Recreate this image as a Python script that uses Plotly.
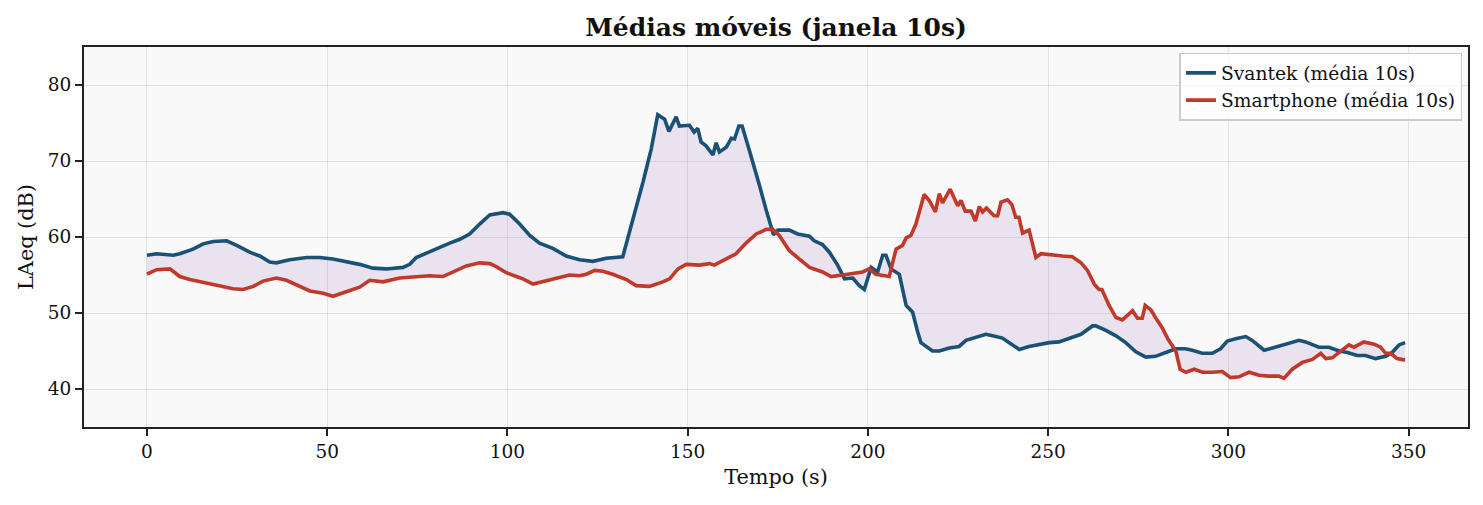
import plotly.graph_objects as go

# Svantek (média 10s)
sv_t = [0, 2.7, 7.3, 9.1, 12.8, 15.6, 18.4, 22.1, 24.9, 28.5, 31.3, 34.1, 35.9, 39.6, 44.3, 47.9,
        51.6, 55.3, 59.0, 62.7, 66.4, 71.0, 72.9, 74.7, 78.4, 81.2, 84.0, 86.8, 89.5, 92.3, 95.1,
        98.8, 100.6, 103.4, 106.2, 108.9, 112.6, 116.3, 120.0, 123.7, 127.4, 132.0, 133.4, 135.3,
        137.6, 139.9, 141.7, 143.6, 144.8, 146.8, 147.7, 150.5, 151.8, 152.8, 153.7, 155.1, 157.0,
        157.9, 158.8, 160.7, 162.1, 163.0, 164.2, 165.1, 167.1, 168.5, 169.9, 171.8, 173.8, 175.0,
        178.2, 180.5, 183.8, 185.1, 187.4, 189.3, 191.6, 193.5, 195.8, 197.6, 199.0, 200.9, 202.7,
        204.1, 205.0, 206.4, 208.7, 210.6, 212.4, 213.8, 214.7, 217.9, 219.8, 222.6, 225.3, 227.2,
        230.0, 232.7, 234.6, 237.3, 239.2, 242.0, 244.7, 247.5, 250.3, 253.0, 255.8, 259.1, 262.3,
        263.2, 266.0, 268.8, 271.5, 274.3, 277.1, 279.8, 282.6, 285.4, 288.0, 290.0, 292.7, 295.5,
        297.8, 299.7, 302.0, 304.8, 306.6, 308.5, 309.9, 312.2, 314.9, 316.8, 319.6, 321.4, 323.3,
        325.1, 327.9, 330.7, 333.0, 335.7, 338.0, 340.8, 343.6, 345.4, 347.3, 349.0]
sv_v = [57.6, 57.8, 57.6, 57.8, 58.4, 59.1, 59.4, 59.5, 58.9, 58.0, 57.5, 56.7, 56.6, 57.0, 57.3, 57.3,
        57.1, 56.8, 56.4, 55.9, 55.8, 56.0, 56.4, 57.3, 58.1, 58.6, 59.2, 59.7, 60.4, 61.7, 62.9,
        63.2, 63.0, 61.7, 60.2, 59.2, 58.5, 57.5, 57.0, 56.8, 57.2, 57.4, 59.7, 63.2,
        67.2, 71.6, 76.1, 75.5, 73.9, 75.8, 74.6, 74.7, 73.8, 74.3, 72.5, 72.0, 70.8,
        72.4, 71.2, 71.8, 73.0, 72.9, 74.6, 74.6, 71.4, 69.2, 66.8, 63.5, 60.3, 60.9,
        60.9, 60.4, 60.1, 59.5, 59.0, 58.0, 56.3, 54.5, 54.6, 53.6, 53.1, 56.0, 55.4,
        57.6, 57.6, 55.8, 55.1, 51.0, 50.1, 47.5, 46.1, 45.0, 45.0, 45.4, 45.6, 46.4,
        46.8, 47.2, 47.0, 46.7, 46.1, 45.2, 45.6, 45.9, 46.1, 46.2, 46.7, 47.2, 48.3,
        48.3, 47.7, 47.0, 46.1, 44.9, 44.2, 44.3, 44.8, 45.3, 45.3, 45.1, 44.7, 44.7,
        45.3, 46.3, 46.6, 46.9, 46.4, 45.7, 45.1, 45.4, 45.8, 46.0, 46.4, 46.2, 45.9,
        45.5, 45.5, 45.0, 44.8, 44.4, 44.4, 44.0, 44.3, 44.8, 45.8, 46.1]

# Smartphone (média 10s)
sp_t = [0, 2.7, 6.4, 9.1, 11.9, 16.5, 20.2, 23.9, 26.7, 29.5, 32.2, 35.9, 38.7, 40.6, 45.2, 48.9,
        51.6, 55.3, 59.0, 61.8, 65.5, 70.1, 74.7, 78.4, 82.1, 84.9, 88.6, 92.3, 95.1, 96.9, 99.7,
        102.5, 104.3, 107.1, 110.8, 114.5, 117.2, 120.0, 121.9, 124.2, 126.5, 129.2, 133.0, 135.7,
        139.4, 143.1, 145.0, 147.3, 149.6, 153.3, 156.0, 157.4, 160.7, 163.4, 166.2, 169.0, 171.8,
        173.6, 175.4, 178.2, 181.0, 183.8, 187.4, 189.8, 193.0, 196.7, 198.5, 200.4, 202.2, 205.9,
        207.8, 209.6, 210.6, 211.9, 213.3, 215.6, 217.0, 218.7, 219.8, 220.7, 222.8, 224.9, 225.8,
        227.0, 228.6, 229.8, 230.9, 231.8, 232.9, 235.0, 236.0, 236.9, 238.7, 239.9, 241.0, 241.9,
        242.9, 244.7, 246.6, 248.0, 251.2, 254.0, 256.7, 259.1, 260.9, 262.8, 264.1, 264.9, 266.9,
        268.8, 270.6, 273.4, 274.8, 276.1, 276.9, 278.5, 280.3, 281.7, 283.3, 285.4, 286.6, 288.2,
        290.5, 292.8, 295.5, 298.3, 300.6, 302.9, 305.7, 308.5, 311.2, 314.0, 315.4, 317.7, 320.5,
        323.3, 325.6, 327.0, 328.8, 331.1, 333.4, 334.8, 337.6, 340.4, 342.2, 343.6, 345.0, 346.8,
        349.0]
sp_v = [55.1, 55.7, 55.8, 54.8, 54.4, 53.9, 53.6, 53.2, 53.1, 53.5, 54.2, 54.6, 54.3, 53.9, 52.9, 52.6,
        52.2, 52.8, 53.4, 54.3, 54.1, 54.6, 54.8, 54.9, 54.8, 55.4, 56.2, 56.6, 56.5, 56.1, 55.3,
        54.8, 54.5, 53.8, 54.2, 54.6, 55.0, 54.9, 55.1, 55.6, 55.5, 55.1, 54.4, 53.6,
        53.5, 54.1, 54.5, 55.8, 56.4, 56.3, 56.5, 56.3, 57.2, 57.8, 59.2, 60.4, 61.0,
        61.0, 60.2, 58.2, 57.1, 56.0, 55.4, 54.8, 55.0, 55.2, 55.4, 55.8, 55.1, 54.8,
        58.4, 58.9, 59.9, 60.2, 61.7, 65.6, 64.8, 63.3, 65.7, 64.5, 66.3, 64.1, 64.8,
        63.4, 63.4, 62.1, 64.0, 63.3, 63.8, 62.8, 62.8, 64.6, 64.9, 64.3, 62.6, 62.6,
        60.5, 60.9, 57.3, 57.8, 57.7, 57.5, 57.4, 56.6, 55.6, 53.8, 53.1, 53.1, 51.0,
        49.4, 49.1, 50.3, 49.3, 49.3, 51.0, 50.4, 49.0, 48.0, 46.5, 45.0, 42.6, 42.2,
        42.6, 42.2, 42.2, 42.3, 41.5, 41.6, 42.2, 41.8, 41.7, 41.7, 41.4, 42.6, 43.5,
        43.9, 44.7, 44.0, 44.1, 45.0, 45.8, 45.5, 46.2, 45.9, 45.5, 44.7, 44.7, 44.0,
        43.8]

TITLE = "Médias móveis (janela 10s)"
X_LABEL = "Tempo (s)"
Y_LABEL = "LAeq (dB)"
SV_NAME = "Svantek (média 10s)"
SP_NAME = "Smartphone (média 10s)"
X_TICKS = [0, 50, 100, 150, 200, 250, 300, 350]
Y_TICKS = [40, 50, 60, 70, 80]

FONT = "DejaVu Serif, serif"
BLUE = "#1a5276"
RED = "#c0392b"

fig = go.Figure()

# shaded region between the two curves
fig.add_trace(go.Scatter(
    x=sv_t + sp_t[::-1], y=sv_v + sp_v[::-1],
    fill="toself", fillcolor="rgba(142,68,173,0.12)",
    line=dict(width=0), mode="lines", hoverinfo="skip", showlegend=False))

fig.add_trace(go.Scatter(x=sv_t, y=sv_v, mode="lines", name=SV_NAME,
                         line=dict(color=BLUE, width=3.6)))
fig.add_trace(go.Scatter(x=sp_t, y=sp_v, mode="lines", name=SP_NAME,
                         line=dict(color=RED, width=3.6)))

axis_common = dict(
    showline=True, linecolor="#222222", linewidth=2, mirror=True,
    ticks="outside", ticklen=7, tickwidth=1.8, tickcolor="#222222",
    showgrid=True, gridcolor="rgba(0,0,0,0.09)", gridwidth=1,
    zeroline=False, tickfont=dict(family=FONT, size=18.5, color="#111111"),
)

fig.update_layout(
    width=1483, height=505,
    margin=dict(l=84, r=15, t=47, b=78),
    paper_bgcolor="white", plot_bgcolor="#f9f9f9",
    font=dict(family=FONT, color="#111111"),
    title=dict(text="<b>" + TITLE + "</b>", xref="paper", x=0.5, xanchor="center",
               y=0.947, yanchor="middle",
               font=dict(family=FONT, size=25, color="#111111")),
    xaxis=dict(range=[-17.45, 366.45], tickvals=X_TICKS,
               title=dict(text=X_LABEL, font=dict(family=FONT, size=20.8), standoff=8),
               **axis_common),
    yaxis=dict(range=[35, 85], tickvals=Y_TICKS,
               title=dict(text=Y_LABEL, font=dict(family=FONT, size=20.8), standoff=8),
               **axis_common),
    legend=dict(x=0.996, y=0.985, xanchor="right", yanchor="top",
                bgcolor="rgba(255,255,255,0.8)", bordercolor="#cccccc", borderwidth=1.5,
                font=dict(family=FONT, size=18.7, color="#111111"),
                tracegroupgap=2),
    showlegend=True,
)

fig.write_html("out.html")
